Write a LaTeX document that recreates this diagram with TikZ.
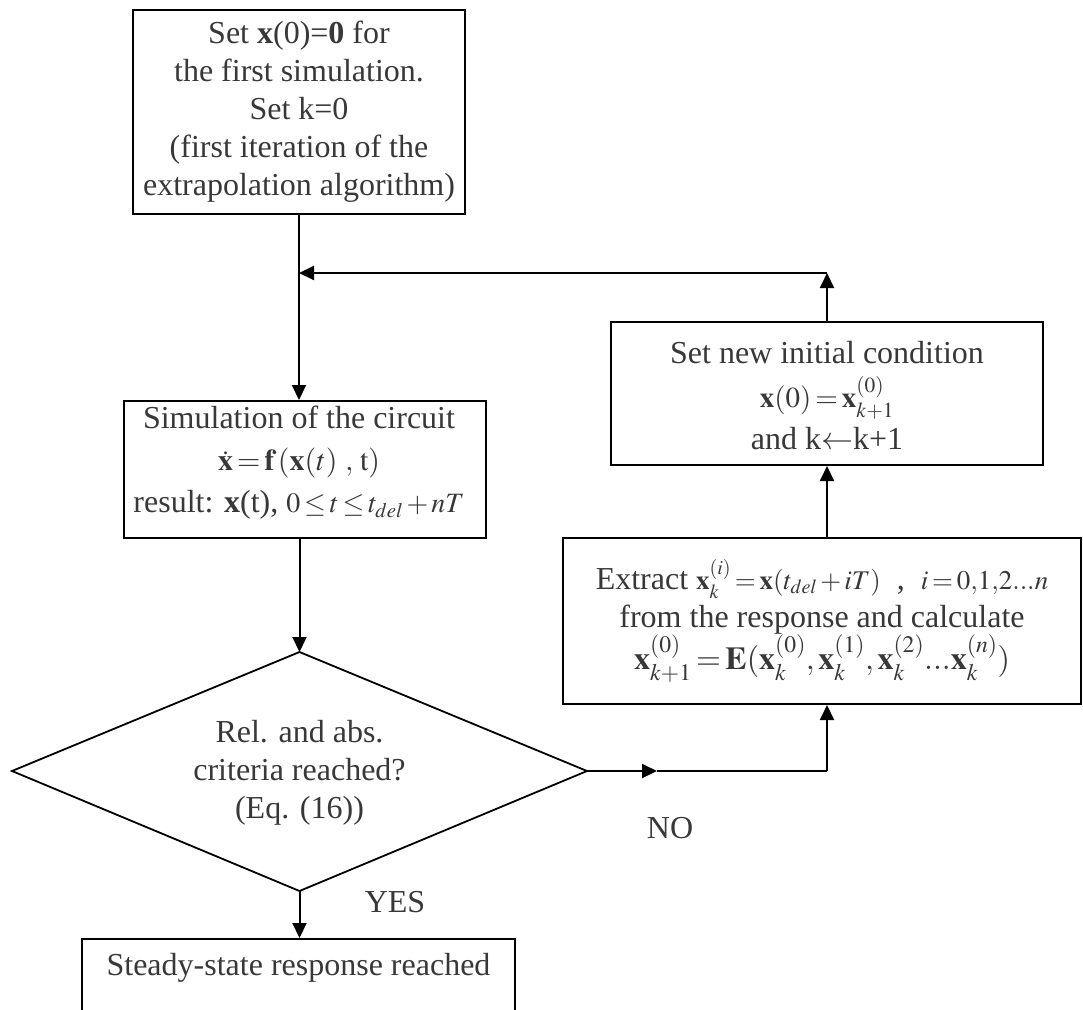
\documentclass[tikz,border=0pt]{standalone}
\usepackage{mathptmx}
\usepackage[no-math]{fontspec}
\setmainfont{Liberation Serif}
\usetikzlibrary{arrows.meta}
\newcommand{\eqsz}[2]{{\fontsize{#1}{#1}\selectfont$#2$}}
\medmuskip=2mu
\thickmuskip=2.5mu
\tikzset{
  x=1pt,y=-1pt,
  txt/.style={font=\fontsize{32}{38}\selectfont, text=black!78, align=center, inner sep=0pt},
  rect/.style={draw=black, line width=2pt},
  conn/.style={draw=black, line width=2pt},
  arr/.style={conn, -{Triangle[length=15pt,width=14pt]}}
}
\begin{document}
\begin{tikzpicture}
\useasboundingbox (0,0) rectangle (1083,1009);
\clip (0,0) rectangle (1083,1009);
% boxes
\node (top) [rect, minimum width=332pt, minimum height=204pt] at (299,112) {};
\node (topt) [txt] at (299,112) {Set \textbf{x}(0)=\textbf{0} for\\the first simulation.\\Set k=0\\(first iteration of the\\extrapolation algorithm)};
\node (sim) [rect, minimum width=362pt, minimum height=137pt] at (305,469.5) {};
\node (simt) [txt] at (299,463) {Simulation of the circuit\\[4pt]\eqsz{30}{\dot{\mathbf{x}}=\mathbf{f}\,\mathbf{(}\mathbf{x}(t)\ ,\,\mathrm{t}\mathbf{)}}\\[4pt]result: \textbf{x}(t),\ \eqsz{28}{0\le t\le t_{del}+nT}};
\node (set) [rect, minimum width=432pt, minimum height=143pt] at (827,393.5) {};
\node (sett) [txt] at (827,396) {Set new initial condition\\[6pt]\eqsz{29}{\mathbf{x}(0)=\mathbf{x}_{k+1}^{(0)}}\\[4pt]and k$\leftarrow$k+1};
\node (ext) [rect, minimum width=518pt, minimum height=166pt] at (822,621) {};
\node (extt) [txt] at (822,621) {Extract\ \eqsz{27}{\mathbf{x}_k^{(i)}=\mathbf{x}(t_{del}+iT)}\ \ ,\ \ \eqsz{27}{i=0{,}1{,}2...n}\\from the response and calculate\\$\mathbf{x}_{k+1}^{(0)}=\mathbf{E}(\mathbf{x}_k^{(0)},\mathbf{x}_k^{(1)},\mathbf{x}_k^{(2)}...\mathbf{x}_k^{(n)})$};
% decision
\coordinate (dtop) at (299.5,652);
\coordinate (dbot) at (299.5,891);
\coordinate (dleft) at (12,771);
\coordinate (dright) at (587,771);
\draw[conn, line width=1.8pt, line join=miter] (dtop) -- (dright) -- (dbot) -- (dleft) -- cycle;
\node (dect) [txt] at (299.5,773) {Rel. and abs.\\criteria reached?\\(Eq. (16))};
% final box
\node (steady) [rect, anchor=north, minimum width=433pt, minimum height=140pt] at (298.5,938) {};
\node (steadyt) [txt] at (298.5,968) {Steady-state response reached};
% connectors
\coordinate (join) at (299,273);
\coordinate (turn) at (set.north |- join);
\coordinate (mid) at (657,771);
\coordinate (corner) at (ext.south -| set.south);
\coordinate (corner2) at (dright -| set.south);
\draw[arr] (top.south -| join) -- (sim.north -| join);
\draw[arr] (set.north) -- (turn);
\draw[arr] (turn) -- (join);
\draw[arr] (sim.south -| dtop) -- (dtop);
\draw[arr] (dright) -- (mid);
\draw[conn] (mid) -- (corner2);
\draw[arr] (corner2) -- (corner);
\draw[arr] (ext.north -| set.south) -- (set.south);
\draw[arr] (dbot) -- (steady.north -| dbot);
% labels
\node (yes) [txt] at (395,902) {YES};
\node (no) [txt] at (670,828) {NO};
\end{tikzpicture}
\end{document}
